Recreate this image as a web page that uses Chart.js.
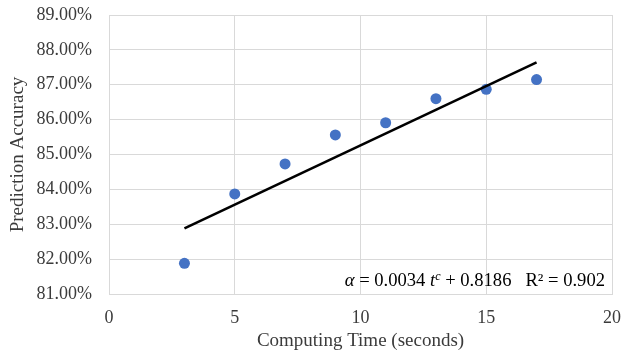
<!DOCTYPE html>
<html>
<head>
<meta charset="utf-8">
<script src="https://cdn.jsdelivr.net/npm/chart.js@4/dist/chart.umd.min.js"></script>
<style>
  html, body { margin: 0; padding: 0; background: #ffffff; }
  #wrap { width: 643px; height: 360px; }
</style>
</head>
<body>
<div id="wrap"><canvas id="c" width="643" height="360"></canvas></div>
<script>
// Computing time (seconds) and the prediction accuracy reached at each time
const computingTime = [3, 5, 7, 9, 11, 13, 15, 17];
const accuracy = [0.8188, 0.8387, 0.8473, 0.8556, 0.8591, 0.8660, 0.8687, 0.8715];

// Fitted trend: alpha = slope * t + intercept, with its R^2
const trendSlope = 0.0034;
const trendIntercept = 0.8186;
const trendR2 = 0.902;
const trendSpan = [3, 17];

// Axis ranges
const xRange = [0, 20];
const yRange = [0.81, 0.89];

const trendPoints = trendSpan.map(t => ({ x: t, y: trendSlope * t + trendIntercept }));
const scatterPoints = computingTime.map((t, i) => ({ x: t, y: accuracy[i] }));

const FONT = '"Liberation Serif", "Times New Roman", serif';
const TEXT = '#3b3b3b';
const GRID = '#d9d9d9';

// Draws the fitted equation in the lower right corner of the plot
const equationLabel = {
  id: 'equationLabel',
  afterDraw(chart) {
    const { ctx, chartArea } = chart;
    const size = 18.6;
    const pieces = [
      { t: 'α', f: `italic ${size}px ${FONT}`, dy: 0 },
      { t: ` = ${trendSlope.toFixed(4)} `, f: `${size}px ${FONT}`, dy: 0 },
      { t: 't', f: `italic ${size}px ${FONT}`, dy: 0 },
      { t: 'c', f: `italic ${Math.round(size * 0.62)}px ${FONT}`, dy: -6 },
      { t: ` + ${trendIntercept.toFixed(4)}   R² = ${trendR2.toFixed(3)}`, f: `${size}px ${FONT}`, dy: 0 }
    ];
    ctx.save();
    let total = 0;
    pieces.forEach(p => { ctx.font = p.f; p.w = ctx.measureText(p.t).width; total += p.w; });
    let x = chartArea.right - 7 - total;
    const y = chartArea.bottom - 8;
    ctx.fillStyle = '#000000';
    ctx.textBaseline = 'alphabetic';
    ctx.textAlign = 'left';
    pieces.forEach(p => { ctx.font = p.f; ctx.fillText(p.t, x, y + p.dy); x += p.w; });
    ctx.restore();
  }
};

new Chart(document.getElementById('c'), {
  type: 'scatter',
  data: {
    datasets: [
      {
        label: 'Prediction Accuracy',
        data: scatterPoints,
        backgroundColor: '#4472C4',
        borderColor: '#4472C4',
        pointRadius: 5.5,
        pointBorderWidth: 0,
        order: 2
      },
      {
        label: 'Trend',
        type: 'line',
        data: trendPoints,
        borderColor: '#000000',
        borderWidth: 2.6,
        pointRadius: 0,
        fill: false,
        tension: 0,
        order: 1
      }
    ]
  },
  options: {
    responsive: false,
    animation: false,
    layout: { padding: { top: 15, right: 31, bottom: 0, left: 0 } },
    plugins: {
      legend: { display: false },
      tooltip: { enabled: false }
    },
    scales: {
      x: {
        type: 'linear',
        min: xRange[0],
        max: xRange[1],
        ticks: {
          stepSize: 5,
          color: TEXT,
          padding: 13,
          maxRotation: 0,
          font: { family: FONT, size: 18 }
        },
        grid: { color: GRID, lineWidth: 1, drawTicks: false },
        border: { color: GRID, width: 1 },
        title: {
          display: true,
          text: 'Computing Time (seconds)',
          color: TEXT,
          font: { family: FONT, size: 19 },
          padding: { top: 0, bottom: 8 }
        },
        afterFit(scale) { scale.height = 66; }
      },
      y: {
        type: 'linear',
        min: yRange[0],
        max: yRange[1],
        ticks: {
          stepSize: 0.01,
          color: TEXT,
          padding: 17,
          font: { family: FONT, size: 18 },
          callback: v => (v * 100).toFixed(2) + '%'
        },
        grid: { color: GRID, lineWidth: 1, drawTicks: false },
        border: { color: GRID, width: 1 },
        title: {
          display: true,
          text: 'Prediction Accuracy',
          color: TEXT,
          font: { family: FONT, size: 19 },
          padding: { top: 7, bottom: 0 }
        },
        afterFit(scale) {
          scale.width = 109;
          scale.paddingTop = 0;
          scale.paddingBottom = 0;
        }
      }
    }
  },
  plugins: [equationLabel]
});
</script>
</body>
</html>
